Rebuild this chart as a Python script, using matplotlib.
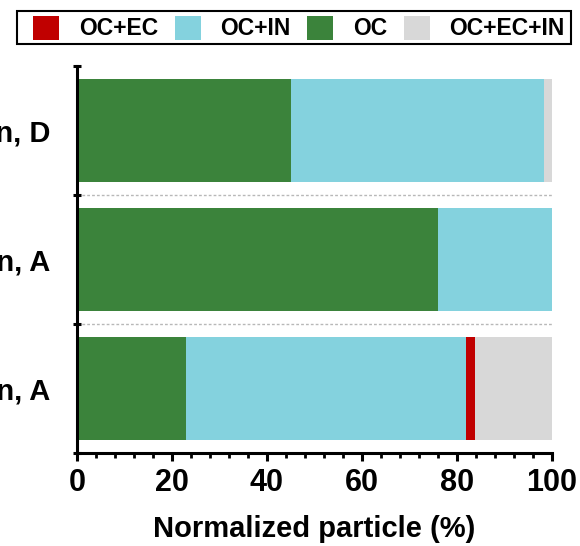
import numpy as np
import matplotlib.pyplot as plt
from matplotlib.ticker import MultipleLocator
from matplotlib.patches import Patch, Rectangle

plt.rcParams['font.family'] = ['Liberation Sans', 'DejaVu Sans']
plt.rcParams['font.weight'] = 'bold'

# bottom to top
samples = ['Urban, A', 'Urban, A', 'Urban, D']
oc = [23.0, 76.1, 45.0]
oc_in = [58.8, 23.8, 53.3]
oc_ec = [1.9, 0.0, 0.0]
oc_ec_in = [16.3, 0.1, 1.7]

colors = {'OC+EC': '#C00000', 'OC+IN': '#84D2DE', 'OC': '#3B833B', 'OC+EC+IN': '#D8D8D8'}

fig = plt.figure(figsize=(5.8, 5.46), dpi=100)
ax = fig.add_axes([77/580, 1 - 453/546, 475/580, 387/546])

y = np.arange(len(samples))
h = 0.8
left = np.zeros(len(samples))
for name, vals in [('OC', oc), ('OC+IN', oc_in), ('OC+EC', oc_ec), ('OC+EC+IN', oc_ec_in)]:
    ax.barh(y, vals, left=left, height=h, color=colors[name], edgecolor='none')
    left += np.array(vals)

ax.set_xlim(0, 100)
ax.set_ylim(-0.5, 2.5)
for yy in [0.5, 1.5]:
    ax.axhline(yy, color='#B8B8B8', lw=1, ls=(0, (2, 1.5)), zorder=0)

ax.spines['top'].set_visible(False)
ax.spines['right'].set_visible(False)
ax.spines['left'].set_linewidth(2.2)
ax.spines['bottom'].set_linewidth(2.2)

ax.xaxis.set_major_locator(MultipleLocator(20))
ax.xaxis.set_minor_locator(MultipleLocator(4))
ax.tick_params(axis='x', which='major', length=6, width=2.2, labelsize=22, pad=5)
ax.tick_params(axis='x', which='minor', length=3.5, width=2)

ax.set_yticks([-0.5, 0.5, 1.5, 2.5])
ax.set_yticklabels([])
ax.set_yticks(y, minor=True)
ax.set_yticklabels(samples, minor=True, fontsize=21)
ax.tick_params(axis='y', which='major', length=6, width=2.2, direction='inout')
ax.tick_params(axis='y', which='minor', length=0, pad=19)

ax.set_xlabel('Normalized particle (%)', fontsize=21, fontweight='bold', labelpad=12)

names = ['OC+EC', 'OC+IN', 'OC', 'OC+EC+IN']
handles = [Patch(facecolor=colors[k], edgecolor='none') for k in names]
leg = fig.legend(handles, names, ncol=4, loc='center',
                 bbox_to_anchor=(299/580, 1 - 28/546), frameon=False,
                 fontsize=16.5, handlelength=1.13, handleheight=1.27,
                 handletextpad=0.87, columnspacing=0.72, borderpad=0.1)
fig.add_artist(Rectangle((17/580, 1 - 44/546), 554/580, 33/546, transform=fig.transFigure,
                         fill=False, edgecolor='black', lw=1.5))

fig.savefig('out.png', dpi=100)
